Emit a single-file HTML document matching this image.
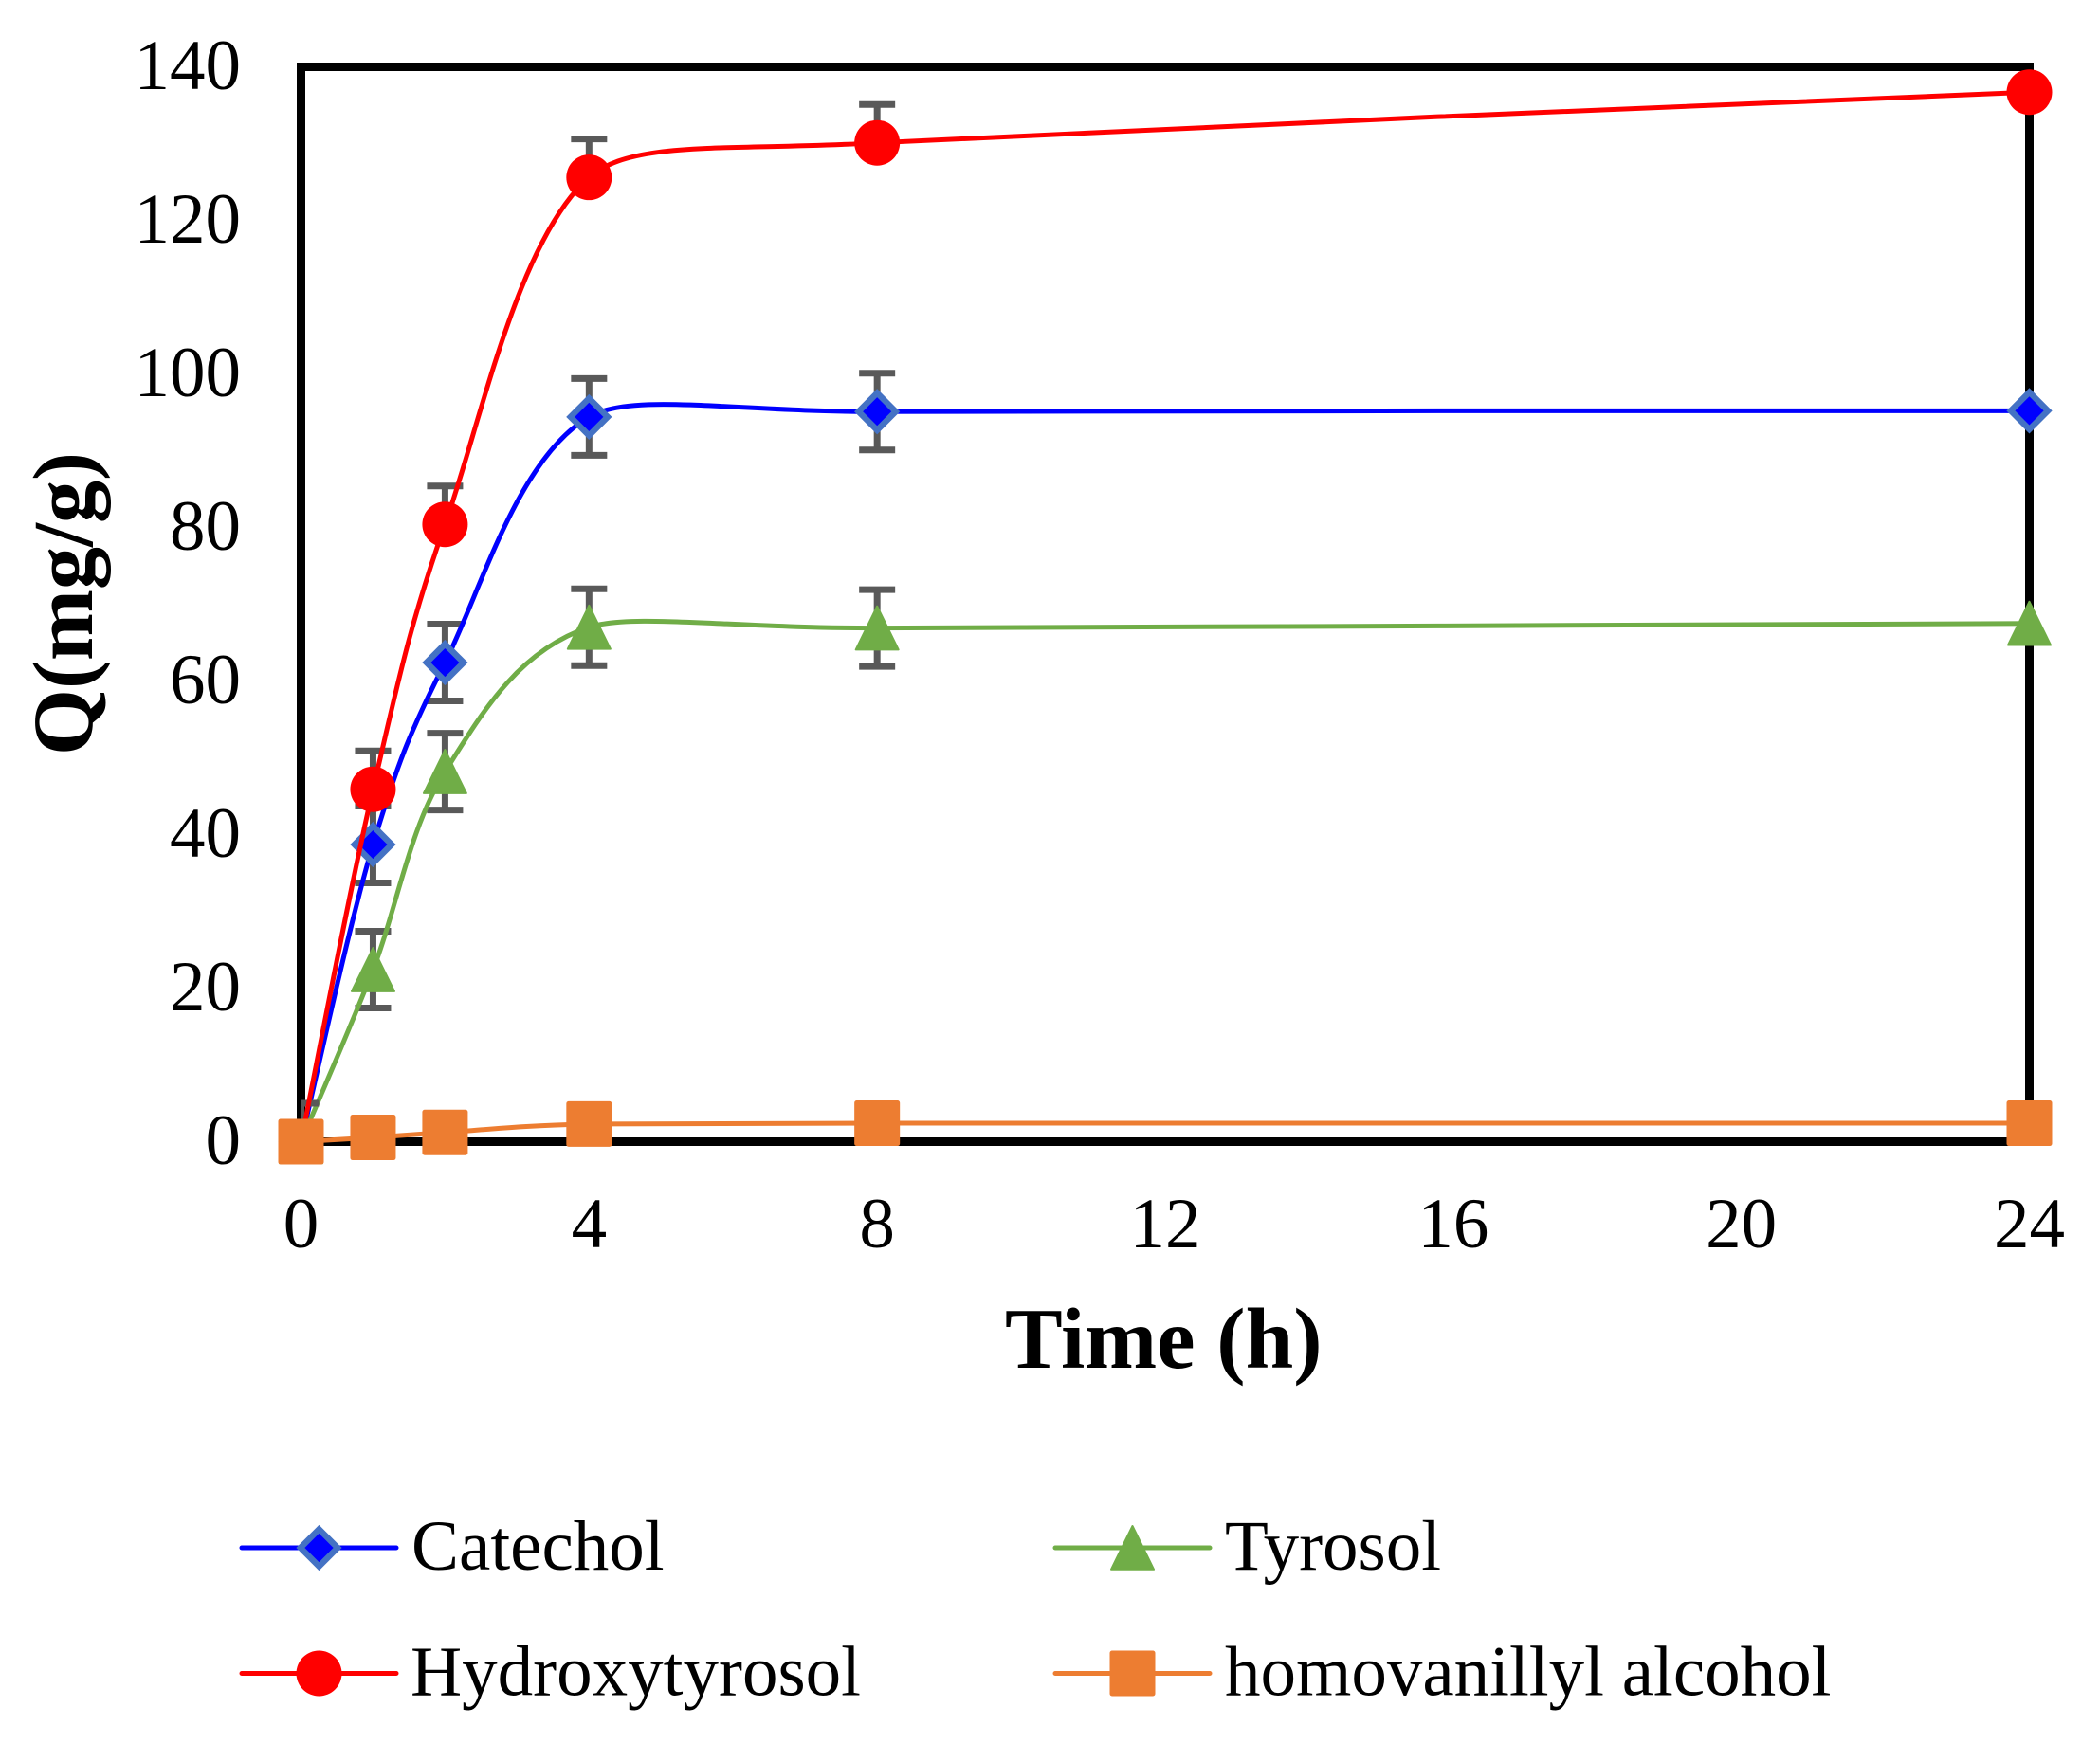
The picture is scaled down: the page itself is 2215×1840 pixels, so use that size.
<!DOCTYPE html>
<html lang="en">
<head>
<meta charset="utf-8">
<title>Q vs time chart</title>
<style>
html,body{margin:0;padding:0;background:#fff;}
body{width:2215px;height:1840px;overflow:hidden;}
svg{display:block;}
text{font-family:"Liberation Serif",serif;fill:#000;}
</style>
</head>
<body>
<svg id="chart" xmlns="http://www.w3.org/2000/svg" width="2215" height="1840" viewBox="0 0 2215 1840">
  <defs>
    <clipPath id="plot-clip"><rect x="317.5" y="0" width="1900" height="1204.5"></rect></clipPath>
  </defs>
  <rect x="0" y="0" width="2215" height="1840" fill="#ffffff"></rect>
  <rect x="317.5" y="70.5" width="1823" height="1134" fill="none" stroke="#000000" stroke-width="9"></rect>
  <text x="1060" y="1443" font-size="91" font-weight="700">Time (h)</text>
  <text transform="translate(97 637) rotate(-90)" text-anchor="middle" font-size="90" font-weight="700">Q(mg/g)</text>
  <g id="tick-labels"></g>
  <g id="series-layer"></g>
  <g id="legend"></g>
</svg>
<script>
const xCategories = [0, 1, 2, 4, 8, 24];
const xTickLabels = [0, 4, 8, 12, 16, 20, 24];
const yTickLabels = [0, 20, 40, 60, 80, 100, 120, 140];
const catecholValues = [0, 38.7, 62.4, 94.4, 95.1, 95.2];
const tyrosolValues = [0, 22.4, 48.2, 67.0, 66.9, 67.5];
const hydroxytyrosolValues = [0, 45.9, 80.4, 125.6, 130.1, 136.7];
const homovanillylValues = [0, 0.55, 1.2, 2.3, 2.4, 2.4];
const catecholErrors = [5, 5, 5, 5, 5, 0];
const tyrosolErrors = [5, 5, 5, 5, 5, 0];
const hydroxytyrosolErrors = [5, 5, 5, 5, 5, 0];

const SVGNS = 'http://www.w3.org/2000/svg';
const PLOT = { left: 317.5, right: 2140.5, top: 70.5, bottom: 1204.5 };
const X_MAX = 24;
const Y_MAX = 140;
function xScale(v) { return PLOT.left + (v / X_MAX) * (PLOT.right - PLOT.left); }
function yScale(v) { return PLOT.bottom - (v / Y_MAX) * (PLOT.bottom - PLOT.top); }

function make(tag, parent) {
  const el = document.createElementNS(SVGNS, tag);
  parent.appendChild(el);
  return el;
}
function dist(a, b) { return Math.hypot(a[0] - b[0], a[1] - b[1]); }

/* spreadsheet-style smoothed line through pixel points */
function smoothPath(pts) {
  let d = 'M' + pts[0][0].toFixed(2) + ' ' + pts[0][1].toFixed(2);
  for (let i = 0; i < pts.length - 1; i++) {
    const p0 = pts[Math.max(i - 1, 0)];
    const p1 = pts[i];
    const p2 = pts[i + 1];
    const p3 = pts[Math.min(i + 2, pts.length - 1)];
    const d02 = dist(p0, p2);
    const d12 = dist(p1, p2);
    const d13 = dist(p1, p3);
    const longA = d02 / 6 >= d12 / 2;
    const longB = d13 / 6 >= d12 / 2;
    let f1 = 1 / 6;
    let f2 = 1 / 6;
    if (longA && longB) { f1 = d12 / d02 / 2; f2 = d12 / d13 / 2; }
    else if (longA) { f1 = d12 / d02 / 2; f2 = f1; }
    else if (longB) { f2 = d12 / d13 / 2; f1 = f2; }
    const c1x = p1[0] + (p2[0] - p0[0]) * f1;
    const c1y = p1[1] + (p2[1] - p0[1]) * f1;
    const c2x = p2[0] - (p3[0] - p1[0]) * f2;
    const c2y = p2[1] - (p3[1] - p1[1]) * f2;
    d += 'C' + c1x.toFixed(2) + ' ' + c1y.toFixed(2) + ' ' + c2x.toFixed(2) + ' ' + c2y.toFixed(2) + ' ' + p2[0].toFixed(2) + ' ' + p2[1].toFixed(2);
  }
  return d;
}

function drawMarker(parent, kind, cx, cy, name) {
  let el;
  if (kind === 'diamond') {
    el = make('polygon', parent);
    el.setAttribute('points', [[cx, cy - 19.6], [cx + 19.6, cy], [cx, cy + 19.6], [cx - 19.6, cy]].map(function (p) { return p.join(','); }).join(' '));
    el.setAttribute('fill', '#0000ff');
    el.setAttribute('stroke', '#4472c4');
    el.setAttribute('stroke-width', '6.4');
  } else if (kind === 'circle') {
    el = make('circle', parent);
    el.setAttribute('cx', cx);
    el.setAttribute('cy', cy);
    el.setAttribute('r', '24');
    el.setAttribute('fill', '#ff0000');
  } else if (kind === 'triangle') {
    el = make('polygon', parent);
    el.setAttribute('points', [[cx, cy - 23], [cx + 22.5, cy + 22.8], [cx - 22.5, cy + 22.8]].map(function (p) { return p.join(','); }).join(' '));
    el.setAttribute('fill', '#70ad47');
    el.setAttribute('stroke', '#70ad47');
    el.setAttribute('stroke-width', '2');
    el.setAttribute('stroke-linejoin', 'round');
  } else {
    el = make('rect', parent);
    el.setAttribute('x', cx - 24);
    el.setAttribute('y', cy - 24);
    el.setAttribute('width', '48');
    el.setAttribute('height', '48');
    el.setAttribute('rx', '2.5');
    el.setAttribute('fill', '#ed7d31');
  }
  
  
  return el;
}

function drawErrors(parent, values, errors, plusOnly, slug) {
  const g = make('g', parent);
  g.setAttribute('clip-path', 'url(#plot-clip)');
  g.setAttribute('stroke', '#595959');
  g.setAttribute('stroke-width', '7');
  
  
  xCategories.forEach(function (xv, i) {
    if (!errors[i]) return;
    const x = xScale(xv);
    const yHi = yScale(values[i] + errors[i]);
    const yLo = plusOnly ? yScale(values[i]) : yScale(values[i] - errors[i]);
    const stem = make('line', g);
    stem.setAttribute('x1', x);
    stem.setAttribute('x2', x);
    stem.setAttribute('y1', yHi);
    stem.setAttribute('y2', yLo);
    
    
    const capTop = make('line', g);
    capTop.setAttribute('x1', x - 19);
    capTop.setAttribute('x2', x + 19);
    capTop.setAttribute('y1', yHi);
    capTop.setAttribute('y2', yHi);
    
    
    if (!plusOnly) {
      const capBottom = make('line', g);
      capBottom.setAttribute('x1', x - 19);
      capBottom.setAttribute('x2', x + 19);
      capBottom.setAttribute('y1', yLo);
      capBottom.setAttribute('y2', yLo);
      
      
    }
  });
}

function drawSeries(values, color, kind, slug) {
  const layer = document.getElementById('series-layer');
  const g = make('g', layer);
  
  
  const pts = xCategories.map(function (xv, i) { return [xScale(xv), yScale(values[i])]; });
  const line = make('path', g);
  line.setAttribute('d', smoothPath(pts));
  line.setAttribute('fill', 'none');
  line.setAttribute('stroke', color);
  line.setAttribute('stroke-width', '5');
  
  
  pts.forEach(function (p) {
    drawMarker(g, kind, p[0], p[1], slug + '-point');
  });
}

function drawTicks() {
  const g = document.getElementById('tick-labels');
  yTickLabels.forEach(function (v) {
    const t = make('text', g);
    t.setAttribute('x', 254);
    t.setAttribute('y', yScale(v) + 23.5);
    t.setAttribute('text-anchor', 'end');
    t.setAttribute('font-size', '75');
    
    
    t.textContent = String(v);
  });
  xTickLabels.forEach(function (v) {
    const t = make('text', g);
    t.setAttribute('x', xScale(v));
    t.setAttribute('y', 1316);
    t.setAttribute('text-anchor', 'middle');
    t.setAttribute('font-size', '75');
    
    
    t.textContent = String(v);
  });
}

function drawLegendEntry(x0, rowY, color, kind, label, textX, slug) {
  const legend = document.getElementById('legend');
  const g = make('g', legend);
  
  
  const l = make('line', g);
  l.setAttribute('x1', x0);
  l.setAttribute('x2', x0 + 163);
  l.setAttribute('y1', rowY);
  l.setAttribute('y2', rowY);
  l.setAttribute('stroke', color);
  l.setAttribute('stroke-width', '5');
  l.setAttribute('stroke-linecap', 'round');
  
  
  drawMarker(g, kind, x0 + 81.5, rowY, slug + '-legend-marker');
  const t = make('text', g);
  t.setAttribute('x', textX);
  t.setAttribute('y', rowY + 23);
  t.setAttribute('font-size', '75');
  
  
  t.textContent = label;
}

drawTicks();
const seriesLayer = document.getElementById('series-layer');
drawErrors(seriesLayer, catecholValues, catecholErrors, false, 'catechol');
drawSeries(catecholValues, '#0000ff', 'diamond', 'catechol');
drawErrors(seriesLayer, tyrosolValues, tyrosolErrors, false, 'tyrosol');
drawSeries(tyrosolValues, '#70ad47', 'triangle', 'tyrosol');
drawErrors(seriesLayer, hydroxytyrosolValues, hydroxytyrosolErrors, true, 'hydroxytyrosol');
drawSeries(hydroxytyrosolValues, '#ff0000', 'circle', 'hydroxytyrosol');
drawSeries(homovanillylValues, '#ed7d31', 'square', 'homovanillyl-alcohol');

drawLegendEntry(255, 1633, '#0000ff', 'diamond', 'Catechol', 434, 'catechol');
drawLegendEntry(1113, 1633, '#70ad47', 'triangle', 'Tyrosol', 1292, 'tyrosol');
drawLegendEntry(255, 1765.5, '#ff0000', 'circle', 'Hydroxytyrosol', 433, 'hydroxytyrosol');
drawLegendEntry(1113, 1765.5, '#ed7d31', 'square', 'homovanillyl alcohol', 1292, 'homovanillyl-alcohol');
</script>
</body>
</html>
